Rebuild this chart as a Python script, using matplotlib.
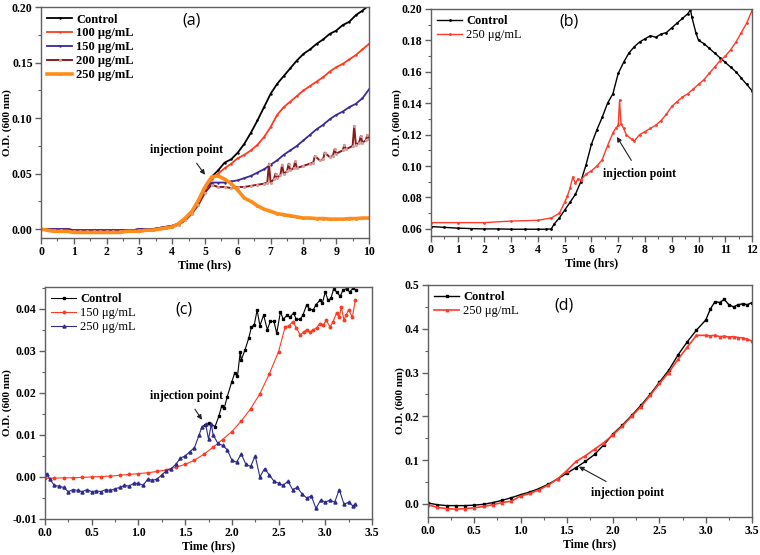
import numpy as np
import matplotlib
matplotlib.use("Agg")
import matplotlib.pyplot as plt
from matplotlib.ticker import MultipleLocator, FormatStrFormatter

plt.rcParams['font.family'] = ['Liberation Serif', 'DejaVu Serif']

# ---------------- Panel (a) ----------------
a_t = [0.0, 0.2, 0.4, 0.6, 0.8, 1.0, 1.2, 1.4, 1.6, 1.8, 2.0, 2.2, 2.4, 2.6, 2.8, 3.0, 3.2, 3.4,
       3.6, 3.8, 4.0, 4.2, 4.4, 4.6, 4.8, 5.0, 5.2, 5.4, 5.6, 5.8, 6.0, 6.2, 6.4, 6.6, 6.8, 7.0,
       7.2, 7.4, 7.6, 7.8, 8.0, 8.2, 8.4, 8.6, 8.8, 9.0, 9.2, 9.4, 9.6, 9.8, 10.0]
a_early = [0.000, 0.000, 0.000, 0.000, 0.000, -0.001, -0.001, -0.001, -0.001, -0.001, -0.001,
           -0.001, -0.001, -0.001, -0.001, 0.000, 0.000, 0.000]
a_control = a_early + [0.001, 0.002, 0.003, 0.005, 0.009, 0.015, 0.024, 0.036, 0.047, 0.053, 0.060,
                       0.063, 0.069, 0.077, 0.087, 0.098, 0.110, 0.122, 0.131, 0.138, 0.145, 0.152,
                       0.158, 0.162, 0.167, 0.171, 0.176, 0.179, 0.184, 0.187, 0.193, 0.197, 0.202]
a_100 = a_early + [0.001, 0.002, 0.003, 0.005, 0.009, 0.015, 0.024, 0.036, 0.045, 0.050, 0.055,
                   0.059, 0.064, 0.067, 0.071, 0.076, 0.083, 0.092, 0.103, 0.110, 0.115, 0.120,
                   0.125, 0.129, 0.133, 0.137, 0.142, 0.146, 0.149, 0.153, 0.157, 0.162, 0.167]
a_150 = a_early + [0.001, 0.002, 0.003, 0.005, 0.009, 0.015, 0.024, 0.036, 0.042, 0.042, 0.042,
                   0.043, 0.044, 0.046, 0.048, 0.051, 0.054, 0.058, 0.062, 0.067, 0.071, 0.075,
                   0.080, 0.085, 0.090, 0.094, 0.099, 0.103, 0.106, 0.110, 0.113, 0.118, 0.126]
a_250 = [0.000, -0.001, -0.002, -0.002, -0.002, -0.003, -0.003, -0.003, -0.003, -0.003, -0.003,
         -0.003, -0.003, -0.002, -0.002, -0.002, -0.001, -0.001,
         0.000, 0.001, 0.002, 0.005, 0.010, 0.016, 0.026, 0.038, 0.047, 0.048, 0.045, 0.041,
         0.035, 0.028, 0.025, 0.021, 0.018, 0.016, 0.014, 0.013, 0.012, 0.011, 0.010, 0.010,
         0.0095, 0.0095, 0.009, 0.009, 0.009, 0.0095, 0.0095, 0.010, 0.010]
a_200_t = [0.0, 0.2, 0.4, 0.6, 0.8, 1.0, 1.2, 1.4, 1.6, 1.8, 2.0, 2.2, 2.4, 2.6, 2.8, 3.0, 3.2, 3.4,
           3.6, 3.8, 4.0, 4.2, 4.4, 4.6, 4.8, 5.0, 5.2, 5.4, 5.6, 5.8, 6.0, 6.2, 6.4, 6.6, 6.8,
           6.9, 6.95, 7.0, 7.1, 7.15, 7.2, 7.3, 7.35, 7.4, 7.5, 7.55, 7.6, 7.7, 7.75, 7.8, 8.0,
           8.2, 8.3, 8.35, 8.5, 8.6, 8.65, 8.8, 8.9, 8.95, 9.0, 9.2, 9.25, 9.3, 9.5, 9.55, 9.6,
           9.7, 9.75, 9.8, 9.9, 9.95, 10.0]
a_200 = [0.000, -0.001, -0.001, -0.001, -0.002, -0.002, -0.002, -0.002, -0.002, -0.002, -0.002,
         -0.002, -0.002, -0.002, -0.002, -0.001, -0.001, -0.001,
         0.000, 0.001, 0.002, 0.004, 0.008, 0.014, 0.022, 0.033, 0.040, 0.038, 0.038, 0.037,
         0.038, 0.038, 0.039, 0.040, 0.041,
         0.042, 0.059, 0.042, 0.045, 0.050, 0.046, 0.049, 0.058, 0.050, 0.052, 0.059, 0.053,
         0.055, 0.061, 0.055, 0.057, 0.059, 0.060, 0.066, 0.062, 0.063, 0.069, 0.065, 0.066,
         0.072, 0.068, 0.071, 0.076, 0.072, 0.075, 0.093, 0.076, 0.078, 0.084, 0.078, 0.080,
         0.085, 0.081]

# ---------------- Panel (b) ----------------
b_ctrl_t = [0, 0.5, 1, 1.5, 2, 2.5, 3, 3.5, 4, 4.3, 4.5, 4.6, 4.8, 5.0, 5.2, 5.4, 5.6, 5.8, 6.0,
            6.2, 6.4, 6.6, 6.8, 7.0, 7.2, 7.4, 7.6, 7.8, 8.0, 8.2, 8.4, 8.6, 8.8, 9.0, 9.2, 9.4,
            9.6, 9.7, 9.75, 9.9, 10.0, 10.2, 10.4, 10.6, 10.8, 11.0, 11.2, 11.4, 11.6, 11.8, 12.0]
b_ctrl = [0.0615, 0.061, 0.0605, 0.0602, 0.060, 0.060, 0.0598, 0.0598, 0.0598, 0.0598, 0.060,
          0.063, 0.067, 0.072, 0.077, 0.082, 0.090, 0.101, 0.114, 0.123, 0.131, 0.140, 0.146,
          0.159, 0.166, 0.172, 0.176, 0.179, 0.181, 0.183, 0.182, 0.184, 0.185, 0.188, 0.191,
          0.194, 0.197, 0.1995, 0.195, 0.185, 0.180, 0.178, 0.175, 0.172, 0.169, 0.166, 0.163,
          0.160, 0.156, 0.152, 0.148]
b_trt_t = [0, 1, 2, 3, 4, 4.5, 4.8, 5.0, 5.1, 5.2, 5.3, 5.4, 5.5, 5.6, 5.8, 6.0, 6.2, 6.4, 6.6,
           6.8, 6.9, 7.0, 7.05, 7.1, 7.2, 7.3, 7.5, 7.6, 7.8, 8.0, 8.2, 8.4, 8.6, 8.8, 9.0, 9.2,
           9.4, 9.6, 9.8, 10.0, 10.2, 10.4, 10.6, 10.8, 11.0, 11.2, 11.4, 11.6, 11.8, 12.0]
b_trt = [0.064, 0.064, 0.064, 0.065, 0.0655, 0.067, 0.070, 0.077, 0.081, 0.086, 0.093, 0.089,
         0.092, 0.091, 0.095, 0.097, 0.100, 0.104, 0.113, 0.121, 0.124, 0.126, 0.142, 0.127,
         0.124, 0.120, 0.117, 0.116, 0.120, 0.122, 0.124, 0.126, 0.129, 0.133, 0.138, 0.141,
         0.144, 0.146, 0.149, 0.152, 0.155, 0.159, 0.163, 0.167, 0.170, 0.174, 0.179, 0.185,
         0.191, 0.199]

# ---------------- Panel (c) ----------------
c_ctrl_t = [1.71, 1.76, 1.82, 1.86, 1.89, 1.92, 1.95, 2.0, 2.03, 2.06, 2.09, 2.1, 2.14, 2.18,
            2.21, 2.24, 2.27, 2.3, 2.34, 2.38, 2.41, 2.45, 2.48, 2.52, 2.55, 2.59, 2.62, 2.66,
            2.69, 2.73, 2.76, 2.8, 2.83, 2.87, 2.9, 2.94, 2.97, 3.0, 3.03, 3.06, 3.09, 3.12,
            3.16, 3.19, 3.23, 3.26, 3.3, 3.33]
c_ctrl = [0.0124, 0.0128, 0.012, 0.0144, 0.0168, 0.0165, 0.0191, 0.0227, 0.0247, 0.0240,
          0.0298, 0.0278, 0.0302, 0.033, 0.0357, 0.0362, 0.0397, 0.036, 0.0385, 0.035,
          0.0370, 0.037, 0.0342, 0.0393, 0.0375, 0.0385, 0.0380, 0.039, 0.0375, 0.0375,
          0.0385, 0.0409, 0.040, 0.0397, 0.041, 0.042, 0.0415, 0.044, 0.042, 0.0425,
          0.0448, 0.0440, 0.043, 0.0445, 0.0448, 0.0440, 0.0450, 0.0444]
c_150_t = [0.0, 0.1, 0.2, 0.3, 0.4, 0.5, 0.6, 0.7, 0.8, 0.9, 1.0, 1.1, 1.2, 1.3, 1.4, 1.5, 1.6,
           1.7, 1.8, 1.9, 2.0, 2.1, 2.2, 2.3, 2.4, 2.5, 2.57, 2.61, 2.65, 2.69, 2.73, 2.77, 2.8,
           2.84, 2.87, 2.91, 2.94, 2.98, 3.01, 3.05, 3.08, 3.12, 3.15, 3.17, 3.2, 3.22, 3.25,
           3.29, 3.32]
c_150 = [-0.0003, -0.0003, -0.0002, -0.0002, -0.0001, 0.0000, 0.0001, 0.0002, 0.0004, 0.0006,
         0.0008, 0.0010, 0.0013, 0.0017, 0.0023, 0.0030, 0.0040, 0.0054, 0.0071, 0.0089,
         0.0108, 0.0133, 0.0162, 0.0198, 0.0245, 0.0298, 0.0357, 0.0360, 0.0369, 0.0355,
         0.0338, 0.0345, 0.0350, 0.0345, 0.0350, 0.0355, 0.0365, 0.0362, 0.0373, 0.0357,
         0.0368, 0.0390, 0.0380, 0.0405, 0.0373, 0.0385, 0.0397, 0.0380, 0.0420]
c_250_t = [0.0, 0.02, 0.05, 0.1, 0.15, 0.2, 0.25, 0.3, 0.35, 0.4, 0.45, 0.5, 0.55, 0.6, 0.65,
           0.7, 0.75, 0.8, 0.85, 0.9, 0.95, 1.0, 1.05, 1.1, 1.15, 1.2, 1.25, 1.3, 1.35, 1.4,
           1.45, 1.5, 1.55, 1.6, 1.65, 1.68, 1.72, 1.75, 1.78, 1.8, 1.85, 1.9, 1.95, 2.0, 2.05,
           2.1, 2.15, 2.2, 2.25, 2.3, 2.35, 2.4, 2.45, 2.5, 2.55, 2.6, 2.65, 2.7, 2.75, 2.8,
           2.85, 2.9, 2.95, 3.0, 3.05, 3.1, 3.15, 3.2, 3.25, 3.3, 3.32]
c_250 = [0.0008, 0.0008, -0.0005, -0.0020, -0.0022, -0.0025, -0.0035, -0.0030, -0.0032, -0.0035,
         -0.0030, -0.0035, -0.0033, -0.0035, -0.0030, -0.0032, -0.0028, -0.0025, -0.0020,
         -0.0022, -0.0015, -0.0015, -0.0020, -0.0005, -0.0008, -0.0005, 0.0005, 0.0015, 0.0020,
         0.0030, 0.0045, 0.0050, 0.0060, 0.0070, 0.0100, 0.0120, 0.0125, 0.0090, 0.0125, 0.0100,
         0.0080, 0.0075, 0.0065, 0.0040, 0.0035, 0.0055, 0.0030, 0.0025, 0.0050, 0.0000, 0.0020,
         0.0005, -0.0010, -0.0015, -0.0020, -0.0010, -0.0030, -0.0025, -0.0040, -0.0050,
         -0.0045, -0.0075, -0.0055, -0.0060, -0.0055, -0.0060, -0.0030, -0.0065, -0.0060,
         -0.0070, -0.0065]

# ---------------- Panel (d) ----------------
d_t = [0.0, 0.1, 0.2, 0.3, 0.4, 0.5, 0.6, 0.7, 0.8, 0.9, 1.0, 1.1, 1.2, 1.3, 1.4, 1.5, 1.6, 1.7,
       1.8, 1.9, 2.0, 2.1, 2.2, 2.3, 2.4, 2.5, 2.6, 2.7, 2.8, 2.9, 3.0, 3.05, 3.1, 3.15, 3.2,
       3.25, 3.3, 3.35, 3.4, 3.45, 3.5]
d_ctrl = [0.002, -0.002, -0.004, -0.004, -0.004, -0.003, -0.001, 0.003, 0.008, 0.014, 0.021,
          0.027, 0.035, 0.045, 0.057, 0.070, 0.083, 0.097, 0.113, 0.135, 0.160, 0.180, 0.202,
          0.225, 0.250, 0.278, 0.305, 0.340, 0.370, 0.397, 0.420, 0.445, 0.462, 0.460, 0.467,
          0.455, 0.450, 0.455, 0.457, 0.455, 0.460]
d_trt = [-0.002, -0.008, -0.011, -0.012, -0.011, -0.009, -0.006, -0.002, 0.003, 0.006, 0.018,
         0.024, 0.032, 0.043, 0.057, 0.076, 0.097, 0.110, 0.125, 0.140, 0.158, 0.178, 0.200,
         0.222, 0.248, 0.275, 0.300, 0.330, 0.358, 0.385, 0.385, 0.384, 0.385, 0.382, 0.383,
         0.381, 0.382, 0.380, 0.379, 0.376, 0.372]

labels_a = ["Control", "100 \u03bcg/mL", "150 \u03bcg/mL", "200 \u03bcg/mL", "250 \u03bcg/mL"]
labels_b = ["Control", "250 \u03bcg/mL"]
labels_c = ["Control", "150 \u03bcg/mL", "250 \u03bcg/mL"]
labels_d = ["Control", "250 \u03bcg/mL"]

fig = plt.figure(figsize=(7.6, 5.55), dpi=100)
axa = fig.add_axes([0.054, 0.5712, 0.4315, 0.4156])
axb = fig.add_axes([0.567, 0.5748, 0.4225, 0.409])
axc = fig.add_axes([0.0592, 0.0649, 0.4303, 0.418])
axd = fig.add_axes([0.5632, 0.0685, 0.4263, 0.418])

TFS = 8.5
spine_col = '#606060'


def style(ax, xmaj, xmin, ymaj, ymin, yfmt, xfmt):
    for s in ax.spines.values():
        s.set_color(spine_col)
        s.set_linewidth(1.0)
    ax.xaxis.set_major_locator(MultipleLocator(xmaj))
    ax.xaxis.set_minor_locator(MultipleLocator(xmin))
    ax.yaxis.set_major_locator(MultipleLocator(ymaj))
    ax.yaxis.set_minor_locator(MultipleLocator(ymin))
    ax.yaxis.set_major_formatter(FormatStrFormatter(yfmt))
    ax.xaxis.set_major_formatter(FormatStrFormatter(xfmt))
    ax.tick_params(which='major', direction='out', length=4, width=1, color=spine_col,
                   labelsize=TFS, pad=2)
    ax.tick_params(which='minor', direction='out', length=2, width=0.8, color=spine_col)
    for lab in ax.get_xticklabels() + ax.get_yticklabels():
        lab.set_fontweight('bold')
    ax.set_xlabel("Time (hrs)", fontsize=TFS, fontweight='bold', labelpad=1)
    ax.set_ylabel("O.D. (600 nm)", fontsize=8, fontweight='bold', labelpad=0)


def leg(ax, weights):
    lg = ax.legend(loc='upper left', frameon=False, fontsize=9, handlelength=2.0,
                   handletextpad=0.3, labelspacing=0.15, borderaxespad=0.3, borderpad=0.2)
    for txt, w in zip(lg.get_texts(), weights):
        txt.set_fontweight(w)
    return lg


def plabel(ax, s, x, y):
    ax.text(x, y, s, transform=ax.transAxes, fontsize=11.5, family=['Open Sans', 'DejaVu Sans'],
            ha='center', va='center')


def inject(ax, xytext, xy):
    ax.annotate("injection point", xy=xy, xytext=xytext, fontsize=8.5, fontweight='bold',
                ha='center', va='center',
                arrowprops=dict(arrowstyle='-|>', color='#222222', lw=0.8,
                                mutation_scale=7, shrinkA=4, shrinkB=0))


# (a)
axa.plot(a_t, a_control, color='black', lw=1.3, marker='.', ms=1.5, label=labels_a[0])
axa.plot(a_t, a_100, color='#ff3a1f', lw=1.3, marker='.', ms=1.5, label=labels_a[1])
axa.plot(a_t, a_150, color='#3a2a9a', lw=1.3, marker='.', ms=1.5, label=labels_a[2])
axa.plot(a_200_t, a_200, color='#8b1a1a', lw=1.4, marker='.', ms=2.5, mec='#d99a9a',
         label=labels_a[3])
axa.plot(a_t, a_250, color='#ff8c1a', lw=2.6, marker='.', ms=2.5, label=labels_a[4])
axa.set_xlim(0, 10)
axa.set_ylim(-0.008, 0.2)
style(axa, 1, 0.5, 0.05, 0.025, '%.2f', '%d')
leg(axa, ['bold'] * 5)
plabel(axa, "(a)", 0.46, 0.945)
inject(axa, (4.45, 0.0714), (5.0, 0.049))

# (b)
axb.plot(b_ctrl_t, b_ctrl, color='black', lw=1.0, marker='.', ms=2, label=labels_b[0])
axb.plot(b_trt_t, b_trt, color='#ff3a2a', lw=1.0, marker='.', ms=2, label=labels_b[1])
axb.set_xlim(0, 12)
axb.set_ylim(0.0555, 0.2)
style(axb, 1, 0.5, 0.02, 0.01, '%.2f', '%d')
leg(axb, ['bold', 'normal'])
plabel(axb, "(b)", 0.43, 0.945)
inject(axb, (7.8, 0.095), (6.95, 0.1186))

# (c)
axc.plot(c_ctrl_t, c_ctrl, color='black', lw=0.8, marker='s', ms=1.7, label=labels_c[0])
axc.plot(c_150_t, c_150, color='#ff3a1f', lw=0.8, marker='o', ms=1.8, label=labels_c[1])
axc.plot(c_250_t, c_250, color='#2e2a8e', lw=0.8, marker='^', ms=2.2, label=labels_c[2])
axc.set_xlim(0, 3.5)
axc.set_ylim(-0.01, 0.0452)
style(axc, 0.5, 0.25, 0.01, 0.005, '%.2f', '%.1f')
leg(axc, ['bold', 'normal', 'normal'])
plabel(axc, "(c)", 0.426, 0.905)
inject(axc, (1.51, 0.0193), (1.68, 0.0136))

# (d)
axd.plot(d_t, d_ctrl, color='black', lw=1.0, marker='s', ms=1.8, label=labels_d[0])
axd.plot(d_t, d_trt, color='#ff3a2a', lw=1.2, marker='^', ms=1.8, label=labels_d[1])
axd.set_xlim(0, 3.5)
axd.set_ylim(-0.03, 0.5)
style(axd, 0.5, 0.25, 0.1, 0.05, '%.1f', '%.1f')
leg(axd, ['bold', 'normal'])
plabel(axd, "(d)", 0.42, 0.91)
inject(axd, (2.15, 0.025), (1.63, 0.085))

fig.savefig("out.png", dpi=100)
